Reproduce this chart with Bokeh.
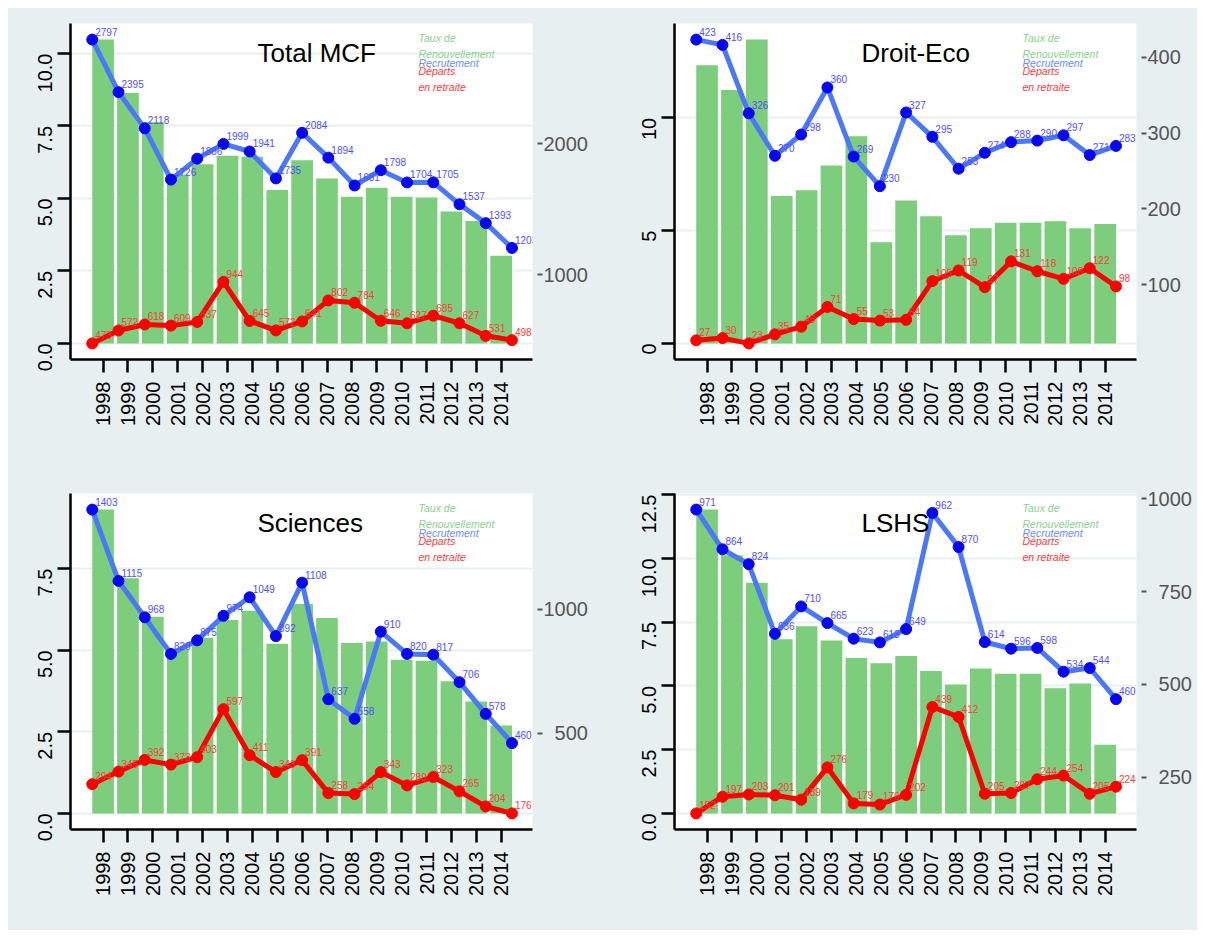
import math
from bokeh.plotting import figure
from bokeh.models import Range1d, LinearAxis, FixedTicker, Label
from bokeh.layouts import column, row
from bokeh.embed import file_html
from bokeh.resources import INLINE
from bokeh.core.properties import value

years = list(range(1998, 2015))

titles = ["Total MCF", "Droit-Eco", "Sciences", "LSHS"]

mcf_taux = [10.48, 8.64, 7.64, 5.83, 6.18, 6.47, 6.44, 5.29, 6.32, 5.69, 5.06, 5.37, 5.06, 5.03, 4.55, 4.22, 3.02]
mcf_recr = [2797, 2395, 2118, 1726, 1886, 1999, 1941, 1735, 2084, 1894, 1681, 1798, 1704, 1705, 1537, 1393, 1203]
mcf_dep = [473, 572, 618, 609, 637, 944, 645, 572, 641, 802, 784, 646, 627, 685, 627, 531, 498]

de_taux = [12.33, 11.23, 13.47, 6.53, 6.79, 7.89, 9.19, 4.49, 6.34, 5.64, 4.80, 5.11, 5.35, 5.35, 5.42, 5.11, 5.29]
de_recr = [423, 416, 326, 270, 298, 360, 269, 230, 327, 295, 253, 274, 288, 290, 297, 271, 283]
de_dep = [27, 30, 23, 35, 45, 71, 55, 53, 54, 105, 119, 97, 131, 118, 108, 122, 98]

sc_taux = [9.31, 7.21, 6.03, 5.02, 5.38, 5.93, 6.21, 5.20, 6.42, 5.99, 5.22, 5.27, 4.71, 4.68, 4.05, 3.43, 2.69]
sc_recr = [1403, 1115, 968, 820, 875, 974, 1049, 892, 1108, 637, 558, 910, 820, 817, 706, 578, 460]
sc_dep = [294, 345, 392, 373, 403, 597, 411, 343, 391, 258, 254, 343, 289, 323, 265, 204, 176]

ls_taux = [11.91, 10.12, 9.04, 6.83, 7.34, 6.78, 6.09, 5.89, 6.17, 5.58, 5.05, 5.68, 5.47, 5.47, 4.91, 5.09, 2.69]
ls_recr = [971, 864, 824, 636, 710, 665, 623, 613, 649, 962, 870, 614, 596, 598, 534, 544, 460]
ls_dep = [152, 197, 203, 201, 189, 276, 179, 176, 202, 439, 412, 205, 207, 244, 254, 205, 224]

left_ticks = [[0, 2.5, 5, 7.5, 10], [0, 5, 10], [0, 2.5, 5, 7.5], [0, 2.5, 5, 7.5, 10, 12.5]]
left_labels = [["0.0", "2.5", "5.0", "7.5", "10.0"], ["0", "5", "10"],
               ["0.0", "2.5", "5.0", "7.5"], ["0.0", "2.5", "5.0", "7.5", "10.0", "12.5"]]
right_ticks = [[1000, 2000], [100, 200, 300, 400], [500, 1000], [250, 500, 750, 1000]]

legend_lines = ["Taux de", "Renouvellement", "Recrutement", "Départs", "en retraite"]

BG = "#e8eff1"
GREEN = "#7ccd7c"
BLUE_LINE = "#4a78f8"
BLUE_DOT = "#0808f0"
BLUE_TXT = "#4f4fff"
RED = "#ff0000"
RED_TXT = "#ff3a3a"
FONT = "Liberation Sans"

FW, FH = 462, 336
PAD = 0.053
BW = 0.8715


def panel(k, title, taux, recr, dep, width, height, bl, br, bt, bb):
    n = len(years)
    x0 = years[0] - 1.31
    x1 = years[-1] + 1.26
    M = max(taux)
    ylo, yhi = -PAD * M, (1 + PAD) * M
    allv = recr + dep
    rmin, rmax = min(allv), max(allv)
    rr = rmax - rmin
    p = figure(width=width, height=height, x_range=Range1d(x0, x1), y_range=Range1d(ylo, yhi),
               output_backend="svg", toolbar_location=None,
               min_border_left=bl, min_border_right=br, min_border_top=bt, min_border_bottom=bb)
    p.extra_y_ranges = {"r": Range1d(rmin - PAD * rr, rmax + PAD * rr)}
    p.border_fill_color = BG
    p.background_fill_color = "white"
    p.outline_line_color = None

    # grid
    p.xgrid.visible = False
    p.ygrid.ticker = FixedTicker(ticks=left_ticks[k])
    p.ygrid.grid_line_color = BG
    p.ygrid.grid_line_width = 2

    # left axis
    ya = p.yaxis[0]
    ya.ticker = FixedTicker(ticks=left_ticks[k])
    ya.major_label_overrides = {t: s for t, s in zip(left_ticks[k], left_labels[k])}
    ya.major_label_orientation = math.pi / 2
    ya.axis_line_color = "black"
    ya.axis_line_width = 2.5
    ya.major_tick_line_color = "black"
    ya.major_tick_line_width = 2.5
    ya.major_tick_in = 0
    ya.major_tick_out = 13
    ya.minor_tick_line_color = None
    ya.major_label_text_font = FONT
    ya.major_label_text_font_size = "20px"
    ya.major_label_text_color = "black"
    ya.major_label_standoff = 12

    # bottom axis
    xa = p.xaxis[0]
    xa.ticker = FixedTicker(ticks=years)
    xa.major_label_overrides = {y: str(y) for y in years}
    xa.major_label_orientation = math.pi / 2
    xa.axis_line_color = "black"
    xa.axis_line_width = 2.5
    xa.major_tick_line_color = "black"
    xa.major_tick_line_width = 2.5
    xa.major_tick_in = 0
    xa.major_tick_out = 13
    xa.minor_tick_line_color = None
    xa.major_label_text_font = FONT
    xa.major_label_text_font_size = "20px"
    xa.major_label_text_color = "black"
    xa.major_label_standoff = 9

    # right axis
    maxlen = max(len(str(t)) for t in right_ticks[k])
    ra = LinearAxis(y_range_name="r", ticker=FixedTicker(ticks=right_ticks[k]),
                    major_label_overrides={t: "\u2007" * (maxlen - len(str(t))) + str(t) for t in right_ticks[k]})
    ra.axis_line_color = None
    ra.major_tick_line_color = "#555555"
    ra.major_tick_line_width = 2
    ra.major_tick_in = -5
    ra.major_tick_out = 10
    ra.minor_tick_line_color = None
    ra.major_label_text_font = FONT
    ra.major_label_text_font_size = "20px"
    ra.major_label_text_color = "#555555"
    ra.major_label_standoff = 1
    p.add_layout(ra, "right")

    # bars
    p.vbar(x=years, top=taux, width=BW, bottom=0, fill_color=GREEN, line_color=None)

    # line x positions: from left edge of first bar to right edge of last bar
    span = (n - 1 + BW) / (n - 1)
    px = [years[0] - BW / 2 + (y - years[0]) * span for y in years]

    p.line(px, recr, y_range_name="r", line_color=BLUE_LINE, line_width=5)
    p.line(px, dep, y_range_name="r", line_color=RED, line_width=5)
    p.scatter(px, recr, y_range_name="r", size=11, fill_color=BLUE_DOT, line_color=BLUE_DOT)
    p.scatter(px, dep, y_range_name="r", size=11, fill_color=RED, line_color=RED)
    p.text(x=px, y=recr, text=[str(v) for v in recr], y_range_name="r", x_offset=3, y_offset=-8,
           text_font=value(FONT), text_font_size="10px", text_color=BLUE_TXT, text_baseline="alphabetic")
    p.text(x=px, y=dep, text=[str(v) for v in dep], y_range_name="r", x_offset=3, y_offset=-8,
           text_font=value(FONT), text_font_size="10px", text_color=RED_TXT, text_baseline="alphabetic")

    # title inside the frame
    def dx(pix):
        return x0 + pix / FW * (x1 - x0)

    def dy(pix):
        return yhi - pix / FH * (yhi - ylo)

    p.add_layout(Label(x=dx(187), y=dy(29), text=title, text_font=FONT, text_font_size="26px",
                       text_color="black", text_baseline="alphabetic"))
    offs = [14.3, 30.0, 39.0, 47.7, 63.0]
    cols = ["#8ad28a", "#8ad28a", "#6b8cff", RED_TXT, RED_TXT]
    for s, o, c in zip(legend_lines, offs, cols):
        p.add_layout(Label(x=dx(348), y=dy(o), text=s, text_font=FONT, text_font_size="10.5px",
                           text_font_style="italic", text_color=c, text_baseline="alphabetic"))
    return p


p1 = panel(0, titles[0], mcf_taux, mcf_recr, mcf_dep, 604, 470, 62, 80, 15, 119)
p2 = panel(1, titles[1], de_taux, de_recr, de_dep, 585, 470, 62, 61, 15, 119)
p3 = panel(2, titles[2], sc_taux, sc_recr, sc_dep, 604, 452, 62, 80, 15, 101)
p4 = panel(3, titles[3], ls_taux, ls_recr, ls_dep, 585, 452, 62, 61, 15, 101)

layout = column(row(p1, p2, styles={"background-color": BG}),
                row(p3, p4, styles={"background-color": BG}),
                margin=(8, 0, 0, 8), styles={"background-color": BG})

open("out.html", "w").write(file_html(layout, INLINE))
